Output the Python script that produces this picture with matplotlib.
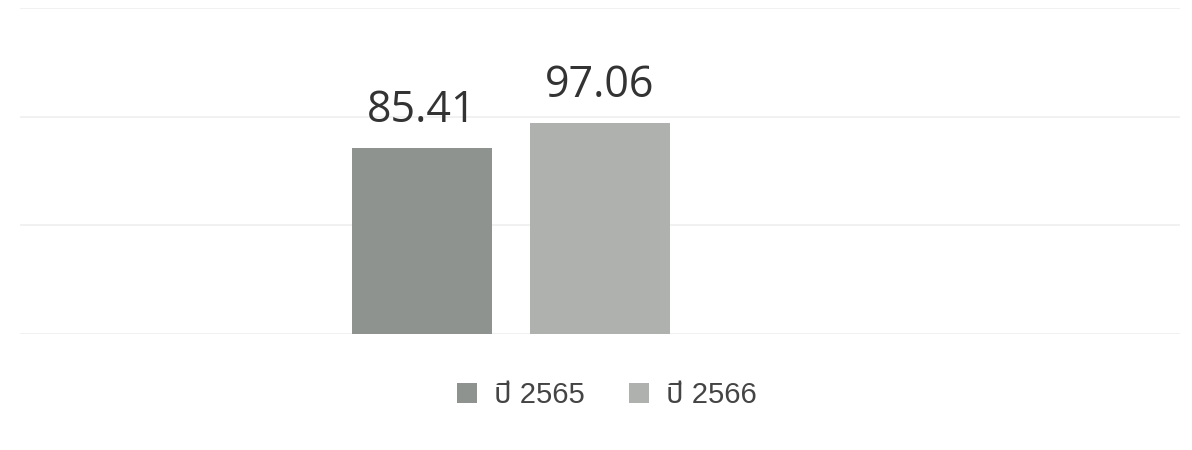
import matplotlib
matplotlib.use("Agg")
import matplotlib.pyplot as plt

# ข้อมูล
years = ["ปี 2565", "ปี 2566"]
values = [85.41, 97.06]
bar_colors = ["#8f9390", "#afb1af"]
grid_vals = [0, 50, 100, 150]

W, H = 1192, 450
fig = plt.figure(figsize=(W / 100, H / 100), dpi=100)
# พื้นที่กราฟ (พิกเซล -> สัดส่วน)
ax = fig.add_axes([20 / W, 1 - 334 / H, 1160 / W, 326 / H])

xpos = [0, 1]
bars = []
for x, v, c, lab in zip(xpos, values, bar_colors, years):
    b = ax.bar(x, v, width=0.787, color=c, label=lab, zorder=2)
    bars.append(b)
    ax.annotate(f"{v:.2f}", (x, v), xytext=(0, 19), textcoords="offset points",
                ha="center", va="baseline", fontsize=31, color="#333333",
                family=["Open Sans", "DejaVu Sans"])

ax.set_xlim(-2.258, 4.258)
ax.set_ylim(0, 150)
ax.set_yticks(grid_vals)
ax.yaxis.grid(True, color="#efefef", linewidth=1.2, zorder=0)
ax.tick_params(left=False, bottom=False, labelleft=False, labelbottom=False)
for s in ax.spines.values():
    s.set_visible(False)

leg = fig.legend(handles=[b[0] for b in bars], labels=years, loc="center",
                 bbox_to_anchor=(607 / W, 1 - 395 / H), ncol=2, frameon=False,
                 prop={"family": ["Liberation Sans", "Noto Sans Thai"], "size": 21},
                 handlelength=0.68, handleheight=0.68, handletextpad=0.6,
                 columnspacing=1.5, labelcolor="#444444")

fig.savefig("out.png", dpi=100)
